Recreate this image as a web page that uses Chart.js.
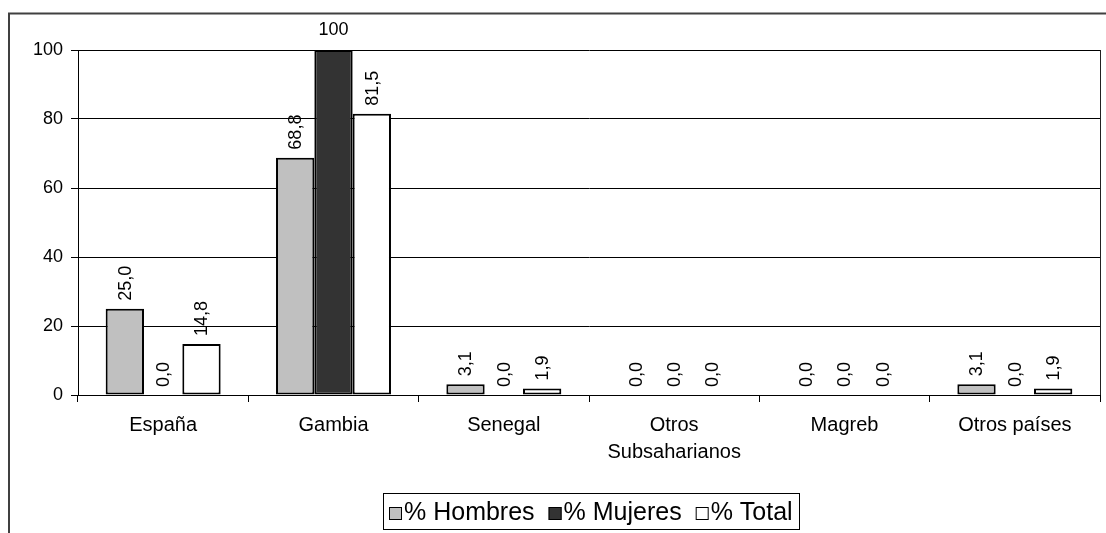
<!DOCTYPE html>
<html>
<head>
<meta charset="utf-8">
<script src="https://cdn.jsdelivr.net/npm/chart.js@4.4.0/dist/chart.umd.min.js"></script>
<style>
  html, body { margin: 0; padding: 0; background: #fff; }
  canvas { display: block; }
</style>
</head>
<body>
<canvas id="chart" width="1106" height="533"></canvas>
<script>
/* ── Data ─────────────────────────────────────────────────────────────── */
const categories = ['España', 'Gambia', 'Senegal', ['Otros', 'Subsaharianos'], 'Magreb', 'Otros países'];
const hombres = [25.0, 68.8, 3.1, 0.0, 0.0, 3.1];
const mujeres = [0.0, 100, 0.0, 0.0, 0.0, 0.0];
const total   = [14.8, 81.5, 1.9, 0.0, 0.0, 1.9];
const yTicks  = [0, 20, 40, 60, 80, 100];

const FONT = '"Liberation Sans", Arial, sans-serif';

/* ── Plugins ──────────────────────────────────────────────────────────── */
// outer frame + right edge of the plot area
const framePlugin = {
  id: 'frame',
  beforeDraw(chart) {
    const c = chart.ctx;
    c.save();
    c.fillStyle = '#fff';
    c.fillRect(0, 0, chart.width, chart.height);
    c.strokeStyle = '#404040';
    c.lineWidth = 2;
    c.strokeRect(9, 13.5, chart.width + 50, chart.height + 50);
    c.restore();
  },
  afterDraw(chart) {
    const a = chart.chartArea;
    const c = chart.ctx;
    c.save();
    c.strokeStyle = '#222';
    c.lineWidth = 1;
    c.beginPath();
    c.moveTo(Math.round(a.right) + 0.5, a.top);
    c.lineTo(Math.round(a.right) + 0.5, a.bottom);
    c.stroke();
    c.restore();
  },
};

// value labels, rotated unless they would run out of the top
const labelPlugin = {
  id: 'valueLabels',
  afterDatasetsDraw(chart) {
    const c = chart.ctx;
    c.save();
    c.fillStyle = '#000';
    c.font = '18px ' + FONT;
    chart.data.datasets.forEach((ds, i) => {
      chart.getDatasetMeta(i).data.forEach((bar, j) => {
        const v = ds.data[j];
        const txt = Number.isInteger(v) && v >= 100 ? String(v) : v.toFixed(1).replace('.', ',');
        const w = c.measureText(txt).width;
        if (bar.y - 8 - w < chart.chartArea.top) {
          c.textAlign = 'center';
          c.textBaseline = 'alphabetic';
          c.fillText(txt, bar.x, bar.y - 15);
        } else {
          c.save();
          c.translate(bar.x + 1, bar.y - 8);
          c.rotate(-Math.PI / 2);
          c.textAlign = 'left';
          c.textBaseline = 'middle';
          c.fillText(txt, 0, 0);
          c.restore();
        }
      });
    });
    c.restore();
  },
};

// boxed legend under the chart
const legendPlugin = {
  id: 'boxLegend',
  afterDraw(chart) {
    const c = chart.ctx;
    c.save();
    c.font = '25px ' + FONT;
    const sq = 13, gapText = 2, gapItem = 14, padX = 6;
    const items = chart.data.datasets.map(ds => ({
      label: ds.label, color: ds.backgroundColor, w: c.measureText(ds.label).width,
    }));
    let totalW = padX * 2;
    items.forEach((it, k) => { totalW += sq + gapText + it.w + (k ? gapItem : 0); });
    const cx = 591, top = 493, h = 36, base = 520;
    let x = Math.round(cx - totalW / 2);
    c.strokeStyle = '#000';
    c.lineWidth = 1;
    c.strokeRect(x + 0.5, top + 0.5, Math.round(totalW), h);
    x += padX;
    c.textBaseline = 'alphabetic';
    c.textAlign = 'left';
    items.forEach((it, k) => {
      if (k) x += gapItem;
      c.fillStyle = it.color;
      c.fillRect(x, base - sq, sq, sq);
      c.strokeStyle = '#000';
      c.strokeRect(x + 0.5, base - sq + 0.5, sq - 1, sq - 1);
      x += sq + gapText;
      c.fillStyle = '#000';
      c.fillText(it.label, x, base);
      x += it.w;
    });
    c.restore();
  },
};

/* ── Chart ────────────────────────────────────────────────────────────── */
const barStyle = { borderColor: '#000', borderWidth: 2, borderSkipped: false,
                   categoryPercentage: 0.675, barPercentage: 1.0 };

new Chart(document.getElementById('chart').getContext('2d'), {
  type: 'bar',
  data: {
    labels: categories,
    datasets: [
      { label: '% Hombres', data: hombres, backgroundColor: '#c0c0c0', ...barStyle },
      { label: '% Mujeres', data: mujeres, backgroundColor: '#333333', ...barStyle },
      { label: '% Total',   data: total,   backgroundColor: '#ffffff', ...barStyle },
    ],
  },
  options: {
    responsive: false,
    devicePixelRatio: 1,
    animation: false,
    layout: { padding: { top: 50, right: 6, left: 0, bottom: 0 } },
    plugins: { legend: { display: false }, tooltip: { enabled: false } },
    scales: {
      x: {
        afterFit: (s) => { s.height = 138; },
        grid: { offset: true, drawOnChartArea: false, drawTicks: true, tickLength: 7, color: '#000' },
        border: { display: true, color: '#000', width: 1 },
        ticks: { color: '#000', font: { family: FONT, size: 20, lineHeight: 1.35 },
                 padding: 10, maxRotation: 0, autoSkip: false },
      },
      y: {
        min: yTicks[0], max: yTicks[yTicks.length - 1],
        afterFit: (s) => { s.width = 78; },
        afterBuildTicks: (s) => { s.ticks = yTicks.map(v => ({ value: v })); },
        grid: { color: '#000', lineWidth: 1, drawTicks: true, tickLength: 7 },
        border: { display: true, color: '#000', width: 1 },
        ticks: { color: '#000', font: { family: FONT, size: 18 }, padding: 8 },
      },
    },
  },
  plugins: [framePlugin, labelPlugin, legendPlugin],
});
</script>
</body>
</html>
